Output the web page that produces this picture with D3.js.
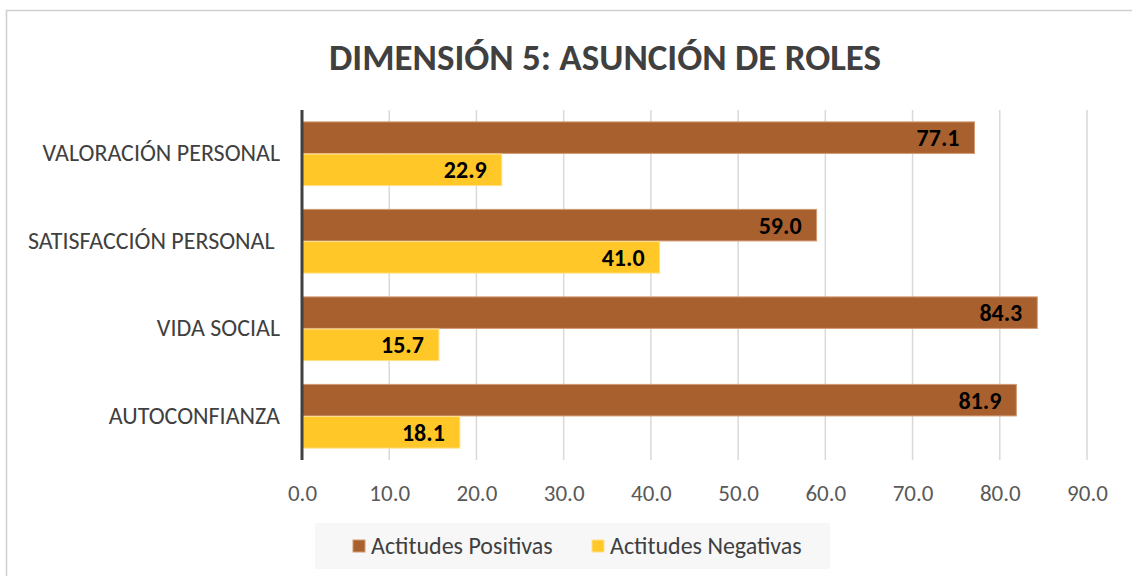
<!DOCTYPE html>
<html>
<head>
<meta charset="utf-8">
<script src="https://cdn.jsdelivr.net/npm/d3@7"></script>
<style>
html,body{margin:0;padding:0;background:#fff;}
svg{display:block;font-family:Carlito,Lato,"Open Sans",sans-serif;}
</style>
</head>
<body>
<svg id="chart" width="1132" height="576"></svg>
<script>
const title = "DIMENSIÓN 5: ASUNCIÓN DE ROLES";
const categories = ["VALORACIÓN PERSONAL", "SATISFACCIÓN PERSONAL ", "VIDA SOCIAL", "AUTOCONFIANZA"];
const seriesNames = ["Actitudes Positivas", "Actitudes Negativas"];
const positivas = [77.1, 59.0, 84.3, 81.9];
const negativas = [22.9, 41.0, 15.7, 18.1];
const xTicks = [0, 10, 20, 30, 40, 50, 60, 70, 80, 90];
const colors = ["#A9602F", "#FFC828"];
const strokes = ["#D29A74", "#FFE08A"];

const FONT = 'Carlito, Lato, "Open Sans", sans-serif';
const svg = d3.select("#chart");

svg.append("rect").attr("x", 6.5).attr("y", 10.5).attr("width", 1140).attr("height", 600)
  .attr("fill", "#fff").attr("stroke", "#D0D0D0").attr("stroke-width", 1.5);

svg.append("text").attr("x", 605).attr("y", 70).attr("text-anchor", "middle")
  .attr("font-size", 37).attr("font-weight", "bold").attr("fill", "#404040")
  .text(title);

const plot = {left: 302, right: 1087, top: 110, bottom: 460};
const x = d3.scaleLinear().domain([0, 90]).range([plot.left, plot.right]);
const y = d3.scaleBand().domain(categories).range([plot.top, plot.bottom]).paddingInner(0.257).paddingOuter(0.1285);
const ys = d3.scaleBand().domain(seriesNames).range([0, y.bandwidth()]).padding(0.02);

svg.append("g").selectAll("line").data(xTicks.slice(1)).join("line")
  .attr("x1", d => x(d)).attr("x2", d => x(d))
  .attr("y1", plot.top).attr("y2", plot.bottom)
  .attr("stroke", "#D9D9D9").attr("stroke-width", 1.5);

const xAxis = d3.axisBottom(x).tickValues(xTicks).tickFormat(d3.format(".1f")).tickSize(0).tickPadding(25);
const gx = svg.append("g").attr("transform", `translate(0,${plot.bottom})`).call(xAxis);
gx.attr("font-family", FONT);
gx.select(".domain").remove();
gx.selectAll("text").attr("font-size", 23).attr("fill", "#595959");

const data = categories.map((c, i) => ({cat: c, vals: [positivas[i], negativas[i]]}));

const groups = svg.append("g").selectAll("g").data(data).join("g")
  .attr("transform", d => `translate(0,${y(d.cat)})`);

groups.selectAll("rect").data(d => d.vals.map((v, j) => ({v, s: seriesNames[j], j}))).join("rect")
  .attr("x", x(0)).attr("y", d => ys(d.s))
  .attr("width", d => x(d.v) - x(0)).attr("height", ys.bandwidth())
  .attr("fill", d => colors[d.j]).attr("stroke", d => strokes[d.j]).attr("stroke-width", 1);

groups.selectAll("text.lbl").data(d => d.vals.map((v, j) => ({v, s: seriesNames[j], j}))).join("text")
  .attr("class", "lbl")
  .attr("x", d => x(d.v) - 15).attr("y", d => ys(d.s) + ys.bandwidth() / 2)
  .attr("dy", "0.36em").attr("text-anchor", "end")
  .attr("font-size", 24).attr("font-weight", "bold").attr("fill", "#000")
  .text(d => d3.format(".1f")(d.v));

const yAxis = d3.axisLeft(y).tickSize(0).tickPadding(22);
const gy = svg.append("g").attr("transform", `translate(${plot.left},0)`).call(yAxis);
gy.attr("font-family", FONT);
gy.select(".domain").remove();
gy.selectAll("text").attr("font-size", 24).attr("fill", "#404040")
  .style("white-space", "pre");
svg.append("line").attr("x1", plot.left).attr("x2", plot.left).attr("y1", plot.top).attr("y2", plot.bottom)
  .attr("stroke", "#404040").attr("stroke-width", 3);

const lg = svg.append("g");
lg.append("rect").attr("x", 315).attr("y", 523).attr("width", 515).attr("height", 46).attr("fill", "#F7F7F7");
const legX = [353, 592];
const li = lg.selectAll("g").data(seriesNames).join("g")
  .attr("transform", (d, i) => `translate(${legX[i]},546)`);
li.append("rect").attr("x", 0).attr("y", -6).attr("width", 12).attr("height", 12)
  .attr("fill", (d, i) => colors[i]).attr("stroke", (d, i) => strokes[i]);
li.append("text").attr("x", 18).attr("dy", "0.35em").attr("font-size", 24).attr("fill", "#404040")
  .text(d => d);
</script>
</body>
</html>
